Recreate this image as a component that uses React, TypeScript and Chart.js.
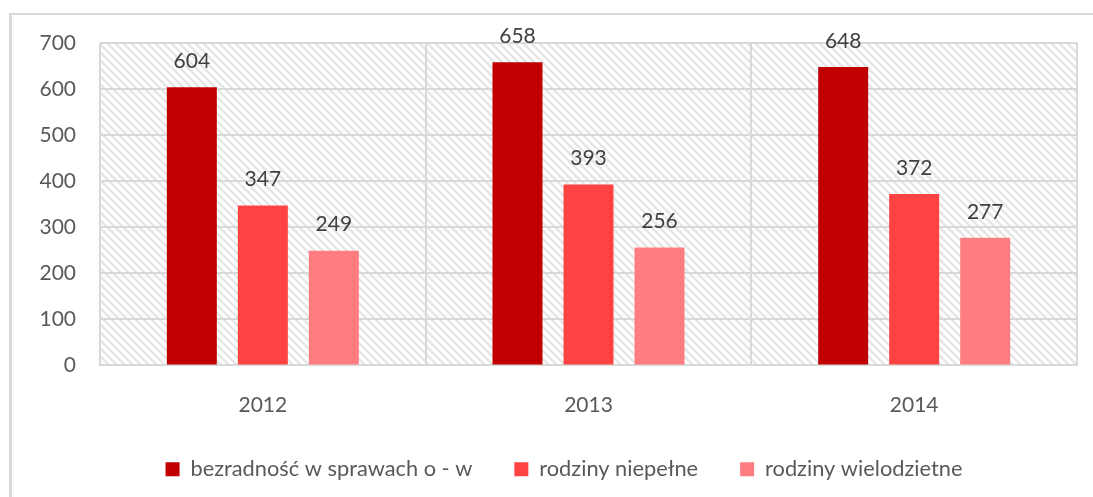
import React, { useEffect, useRef } from "react";
import { Chart, registerables } from "chart.js";

Chart.register(...registerables);

const categories = ["2012", "2013", "2014"];
const seriesNames = ["bezradność w sprawach o - w", "rodziny niepełne", "rodziny wielodzietne"];
const bezradnosc = [604, 658, 648];
const niepelne = [347, 393, 372];
const wielodzietne = [249, 256, 277];
const seriesColors = ["#C00000", "#FF4343", "#FF7C80"];
const yMin = 0;
const yMax = 700;
const yStep = 100;

const FAMILY = "Lato, 'Open Sans', 'Liberation Sans', sans-serif";
const FONT = { family: FAMILY, size: 21 };
const LEGEND_FONT = { family: FAMILY, size: 21.8 };

function makeHatch(): CanvasPattern | string {
  const c = document.createElement("canvas");
  c.width = 8;
  c.height = 8;
  const g = c.getContext("2d");
  if (!g) return "#ffffff";
  g.fillStyle = "#ffffff";
  g.fillRect(0, 0, 8, 8);
  g.strokeStyle = "#e6e6e6";
  g.lineWidth = 2.5;
  g.beginPath();
  g.moveTo(-2, -2);
  g.lineTo(10, 10);
  g.moveTo(-2, 6);
  g.lineTo(2, 10);
  g.moveTo(6, -2);
  g.lineTo(10, 2);
  g.stroke();
  const p = g.createPattern(c, "repeat");
  return p || "#ffffff";
}

const backgroundPlugin = {
  id: "bgFrame",
  afterLayout(chart: any) {
    if (chart.legend) {
      chart.legend.left = 51;
      chart.legend.width = chart.legend.right - 51;
    }
  },
  beforeDraw(chart: any) {
    const { ctx, chartArea: a } = chart;
    ctx.save();
    ctx.fillStyle = "#ffffff";
    ctx.fillRect(0, 0, chart.width, chart.height);
    ctx.strokeStyle = "#d9d9d9";
    ctx.lineWidth = 3;
    ctx.beginPath();
    ctx.moveTo(10.5, chart.height);
    ctx.lineTo(10.5, 13);
    ctx.stroke();
    ctx.lineWidth = 2;
    ctx.beginPath();
    ctx.moveTo(9, 14);
    ctx.lineTo(chart.width, 14);
    ctx.stroke();
    ctx.fillStyle = makeHatch();
    ctx.fillRect(a.left, a.top, a.right - a.left, a.bottom - a.top);
    ctx.restore();
  },
};

const labelPlugin = {
  id: "valueLabels",
  afterDatasetsDraw(chart: any) {
    const { ctx } = chart;
    ctx.save();
    ctx.font = `${FONT.size}px ${FONT.family}`;
    ctx.fillStyle = "#404040";
    ctx.textAlign = "center";
    ctx.textBaseline = "middle";
    chart.data.datasets.forEach((ds: any, i: number) => {
      const meta = chart.getDatasetMeta(i);
      meta.data.forEach((bar: any, j: number) => {
        ctx.fillText(String(ds.data[j]), bar.x, bar.y - 26);
      });
    });
    ctx.restore();
  },
};

export default function App() {
  const ref = useRef<HTMLCanvasElement | null>(null);

  useEffect(() => {
    if (!ref.current) return;
    const chart = new Chart(ref.current, {
      type: "bar",
      data: {
        labels: categories,
        datasets: [
          { label: seriesNames[0], data: bezradnosc, backgroundColor: seriesColors[0] },
          { label: seriesNames[1], data: niepelne, backgroundColor: seriesColors[1] },
          { label: seriesNames[2], data: wielodzietne, backgroundColor: seriesColors[2] },
        ],
      },
      options: {
        responsive: false,
        animation: false,
        datasets: { bar: { categoryPercentage: 0.654, barPercentage: 0.704 } },
        layout: { padding: { top: 43, right: 16, left: 0, bottom: 6.9 } },
        scales: {
          x: {
            grid: { color: "#d9d9d9", lineWidth: 2, drawTicks: false, offset: true },
            border: { display: true, color: "#d9d9d9", width: 2 },
            ticks: { color: "#595959", font: FONT, padding: 27 },
            afterFit: (s: any) => {
              s.height = 50.9;
            },
          },
          y: {
            min: yMin,
            max: yMax,
            ticks: { stepSize: yStep, color: "#595959", font: FONT, padding: 24 },
            grid: { color: "#d9d9d9", lineWidth: 2, drawTicks: false },
            border: { display: false },
            afterFit: (s: any) => {
              s.width = 100;
            },
          },
        },
        plugins: {
          legend: {
            position: "bottom",
            labels: { boxWidth: 14, boxHeight: 14, padding: 42, color: "#595959", font: LEGEND_FONT },
          },
          tooltip: { enabled: false },
        },
      } as any,
      plugins: [backgroundPlugin, labelPlugin],
    });
    return () => chart.destroy();
  }, []);

  return (
    <div style={{ position: "absolute", left: 0, top: 0, width: 1093, height: 497 }}>
      <canvas ref={ref} width={1093} height={497} style={{ display: "block" }} />
    </div>
  );
}
